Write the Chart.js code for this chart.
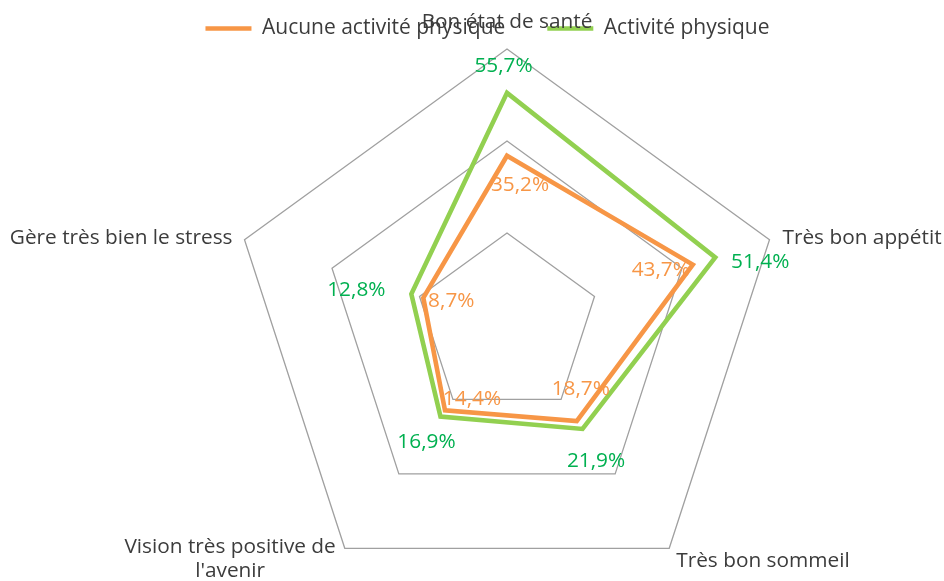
<!DOCTYPE html>
<html><head><meta charset="utf-8">
<script src="https://cdn.jsdelivr.net/npm/chart.js@4.4.0/dist/chart.umd.min.js"></script>
<style>html,body{margin:0;padding:0;background:#fff;}#wrap{width:944px;height:581px;}</style>
</head><body><div id="wrap"><canvas id="c" width="944" height="581"></canvas></div>
<script>
// ---- data ----
const categories = ["Bon état de santé", "Très bon appétit", "Très bon sommeil", ["Vision très positive de", "l'avenir"], "Gère très bien le stress"];
const seriesNames = ["Aucune activité physique", "Activité physique"];
const noActivity = [35.2, 43.7, 18.7, 14.4, 8.7];
const withActivity = [55.7, 51.4, 21.9, 16.9, 12.8];
const axisMin = -20, axisMax = 70, axisStep = 30;

// ---- layout / style ----
const FONT = "'Open Sans', 'Noto Sans', sans-serif";
const FONT_SIZE = 20.8;
const TEXT_COLOR = '#3c3c3c';
const lineColors = ['#F79646', '#92D050'];
const valueColors = ['#F79646', '#00B050'];
const CENTER = {x: 507, y: 325, r: 276};
const catPlacement = [
  {align: 'center', dx: 0, dy: -27},
  {align: 'left', dx: 13, dy: -2},
  {align: 'left', dx: 7, dy: 13},
  {align: 'right', dx: -9, dy: -1, gap: 24},
  {align: 'right', dx: -12, dy: -2}
];
const valueOffsets = [
  [[13, 29], [-32, 5.5], [4, -32], [27, -11], [28, 3]],
  [[-3.5, -27], [45, 5], [13.5, 32], [-14, 26], [-55, -4]]
];

const catLabelPlugin = {
  id: 'catLabels',
  afterDraw(chart) {
    const s = chart.scales.r, ctx = chart.ctx;
    ctx.save();
    ctx.font = FONT_SIZE + 'px ' + FONT;
    ctx.fillStyle = TEXT_COLOR;
    ctx.textBaseline = 'middle';
    chart.data.labels.forEach((lab, i) => {
      const p = s.getPointPosition(i, s.drawingArea);
      const pl = catPlacement[i];
      const x = p.x + pl.dx, y = p.y + pl.dy;
      if (Array.isArray(lab)) {
        const w = Math.max(...lab.map(t => ctx.measureText(t).width));
        const cx = pl.align === 'right' ? x - w / 2 : (pl.align === 'left' ? x + w / 2 : x);
        ctx.textAlign = 'center';
        lab.forEach((t, k) => ctx.fillText(t, cx, y + k * pl.gap));
      } else {
        ctx.textAlign = pl.align;
        ctx.fillText(lab, x, y);
      }
    });
    ctx.restore();
  }
};

const valueLabelPlugin = {
  id: 'valueLabels',
  afterDatasetsDraw(chart) {
    const ctx = chart.ctx;
    ctx.save();
    ctx.font = FONT_SIZE + 'px ' + FONT;
    ctx.textAlign = 'center';
    ctx.textBaseline = 'middle';
    chart.data.datasets.forEach((ds, d) => {
      const meta = chart.getDatasetMeta(d);
      ctx.fillStyle = valueColors[d];
      meta.data.forEach((el, i) => {
        const o = valueOffsets[d][i];
        const txt = ds.data[i].toFixed(1).replace('.', ',') + '%';
        ctx.fillText(txt, el.x + o[0], el.y + o[1]);
      });
    });
    ctx.restore();
  }
};

new Chart(document.getElementById('c'), {
  type: 'radar',
  data: {
    labels: categories,
    datasets: [
      {label: seriesNames[0], data: noActivity, borderColor: lineColors[0], backgroundColor: lineColors[0], fill: false, borderWidth: 4.6, pointRadius: 0, pointHoverRadius: 0, borderJoinStyle: 'miter'},
      {label: seriesNames[1], data: withActivity, borderColor: lineColors[1], backgroundColor: lineColors[1], fill: false, borderWidth: 4.6, pointRadius: 0, pointHoverRadius: 0, borderJoinStyle: 'miter'}
    ]
  },
  options: {
    responsive: false,
    devicePixelRatio: 1,
    animation: false,
    layout: {padding: {top: -24, left: 31, right: 0, bottom: 0}},
    plugins: {
      tooltip: {enabled: false},
      legend: {
        position: 'top',
        align: 'center',
        labels: {
          boxWidth: 46,
          boxHeight: 4.5,
          padding: 42,
          color: TEXT_COLOR,
          font: {family: FONT, size: 21},
          generateLabels(chart) {
            const items = Chart.defaults.plugins.legend.labels.generateLabels(chart);
            items.forEach(it => { it.fillStyle = it.strokeStyle; it.lineWidth = 0; });
            return items;
          }
        }
      }
    },
    scales: {
      r: {
        min: axisMin,
        max: axisMax,
        ticks: {stepSize: axisStep, display: false},
        grid: {color: '#A0A0A0', lineWidth: 1.3},
        angleLines: {display: false},
        pointLabels: {display: false},
        afterFit(scale) {
          scale.xCenter = CENTER.x;
          scale.yCenter = CENTER.y;
          scale.drawingArea = CENTER.r;
        }
      }
    }
  },
  plugins: [valueLabelPlugin, catLabelPlugin]
});
</script></body></html>
